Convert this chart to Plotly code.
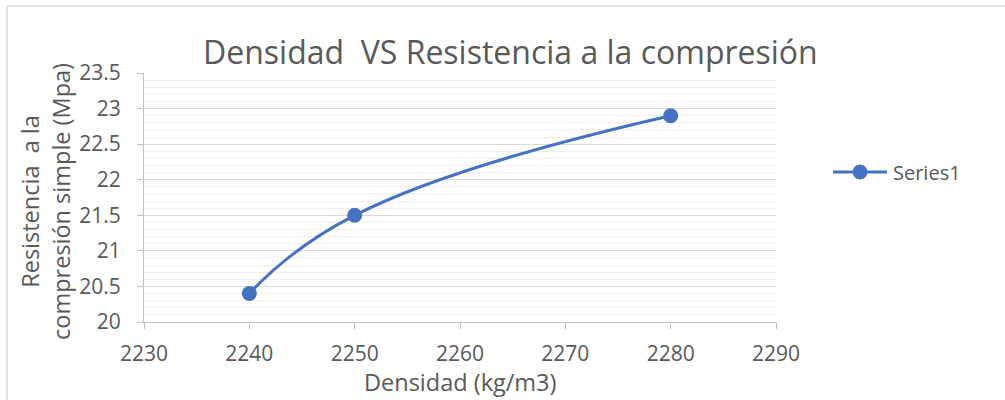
import plotly.graph_objects as go

densidad = [2240, 2250, 2280]
resistencia = [20.4, 21.5, 22.9]
x_ticks = [2230, 2240, 2250, 2260, 2270, 2280, 2290]
y_ticks = [20, 20.5, 21, 21.5, 22, 22.5, 23, 23.5]
y_tick_labels = ["20", "20.5", "21", "21.5", "22", "22.5", "23", "23.5"]

title_text = "Densidad  VS Resistencia a la compresión"
x_title = "Densidad (kg/m3)"
y_title = "Resistencia  a la<br>compresión simple (Mpa)"
series_name = "Series1"

FONT = "Open Sans"
TXT = "#595959"
BLUE = "#4472C4"

W, H = 1005, 400
L, R, T, B = 144, 229, 73, 78
PW, PH = W - L - R, H - T - B


def px_x(px):
    return (px - L) / PW


def px_y(py):
    return (H - B - py) / PH


fig = go.Figure()
fig.add_trace(go.Scatter(
    x=densidad, y=resistencia, name=series_name,
    mode="lines+markers",
    line=dict(color=BLUE, width=3, shape="spline", smoothing=1.3),
    marker=dict(color=BLUE, size=15),
    showlegend=False,
))

# legend drawn as decoration (long Excel-style legend line)
leg_y = px_y(172)
shapes = [
    dict(type="rect", xref="paper", yref="paper",
         x0=px_x(7), x1=px_x(1012), y0=px_y(412), y1=px_y(6),
         line=dict(color="#d9d9d9", width=1.5), fillcolor="rgba(0,0,0,0)", layer="below"),
    dict(type="line", xref="paper", yref="paper",
         x0=px_x(833), x1=px_x(887), y0=leg_y, y1=leg_y,
         line=dict(color=BLUE, width=3)),
    dict(type="circle", xref="paper", yref="paper",
         x0=px_x(860 - 7.5), x1=px_x(860 + 7.5), y0=px_y(172 + 7.5), y1=px_y(172 - 7.5),
         line=dict(color=BLUE, width=0), fillcolor=BLUE),
]

fig.update_layout(
    width=W, height=H,
    margin=dict(l=L, r=R, t=T, b=B),
    paper_bgcolor="white", plot_bgcolor="white",
    font=dict(family=FONT, color=TXT, size=21),
    showlegend=False,
    xaxis=dict(
        range=[2230, 2290], tickvals=x_ticks, ticks="outside", ticklen=6,
        tickcolor="#bfbfbf", showline=True, linecolor="#bfbfbf", linewidth=1,
        showgrid=False, zeroline=False, tickfont=dict(size=21, color=TXT),
        ticklabelstandoff=7, fixedrange=True,
    ),
    yaxis=dict(
        range=[20, 23.5], tickvals=y_ticks, ticktext=y_tick_labels,
        ticks="outside", ticklen=6, tickcolor="#bfbfbf",
        showline=True, linecolor="#bfbfbf", linewidth=1,
        showgrid=True, gridcolor="#d9d9d9", gridwidth=1,
        minor=dict(dtick=0.1, showgrid=True, gridcolor="#efefef", gridwidth=1, ticks=""),
        zeroline=False, tickfont=dict(size=21, color=TXT),
        ticklabelstandoff=12, fixedrange=True,
    ),
    annotations=[
        dict(text=title_text, xref="paper", yref="paper", x=px_x(510.5), y=px_y(51),
             showarrow=False, font=dict(size=32, color=TXT), xanchor="center", yanchor="middle"),
        dict(text=x_title, xref="paper", yref="paper", x=px_x(460), y=px_y(382),
             showarrow=False, font=dict(size=23.5, color=TXT), xanchor="center", yanchor="middle"),
        dict(text=y_title, xref="paper", yref="paper", x=px_x(45), y=px_y(202),
             showarrow=False, font=dict(size=23.5, color=TXT), textangle=-90,
             xanchor="center", yanchor="middle"),
        dict(text=series_name, xref="paper", yref="paper", x=px_x(891), y=leg_y,
             showarrow=False, font=dict(size=20, color=TXT), xanchor="left", yanchor="middle"),
    ],
    shapes=shapes,
)

fig.write_html("out.html", config={"displayModeBar": False},
               post_script="document.body.style.margin='0';")
